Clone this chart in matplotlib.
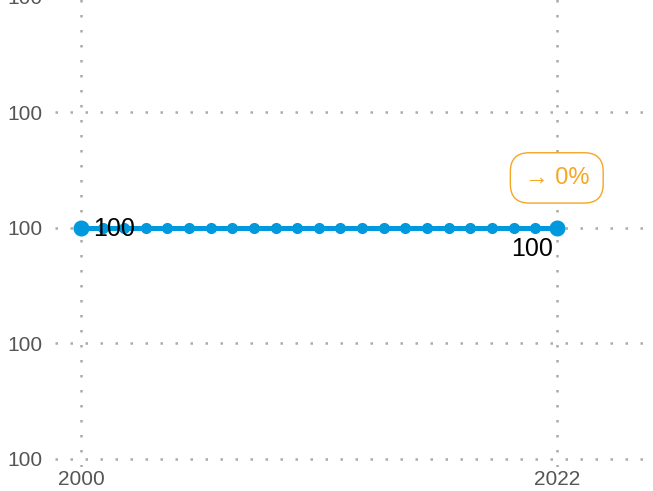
import matplotlib
matplotlib.use("Agg")
import matplotlib.pyplot as plt
from matplotlib.ticker import FormatStrFormatter

plt.rcParams['font.family'] = ['Liberation Sans', 'DejaVu Sans']

# data
years = list(range(2000, 2023))
values = [100] * len(years)
y_ticks = [99.8, 99.9, 100.0, 100.1, 100.2]
x_ticks = [2000, 2022]
change_label = "→ 0%"

line_color = "#0099dd"
orange = "#f5a623"
grid_color = "#aaaaaa"
tick_color = "#555555"

fig = plt.figure(figsize=(6.53, 4.91), dpi=100)
ax = fig.add_axes([55 / 653, 24 / 491, 598 / 653, 480.5 / 491])

ax.plot(years, values, color=line_color, linewidth=3.6, marker='o', markersize=7, zorder=3)
ax.plot([years[0], years[-1]], [values[0], values[-1]], linestyle='none', marker='o',
        markersize=10.5, color=line_color, zorder=4)

ax.set_xlim(1998.8, 2026.45)
ax.set_ylim(99.793, 100.209)
ax.set_xticks(x_ticks)
ax.set_yticks(y_ticks)
ax.yaxis.set_major_formatter(FormatStrFormatter('%.0f'))

ax.grid(True, color=grid_color, linestyle=(0, (1, 5)), linewidth=1.8)
ax.set_axisbelow(True)
for s in ax.spines.values():
    s.set_visible(False)
ax.tick_params(length=0, labelsize=15, labelcolor=tick_color)
ax.tick_params(axis='y', pad=9)
ax.tick_params(axis='x', pad=2)

# end labels
ax.annotate(f"{values[0]:.0f}", (years[0], values[0]), xytext=(9, -1), textcoords='offset points',
            ha='left', va='center', fontsize=18, color='black', zorder=5)
ax.annotate(f"{values[-1]:.0f}", (years[-1], values[-1]), xytext=(-3, -15), textcoords='offset points',
            ha='right', va='center', fontsize=18, color='black', zorder=5)

ax.annotate(change_label, (years[-1], values[-1]), xytext=(0, 36), textcoords='offset points',
            ha='center', va='center', fontsize=17, color=orange,
            bbox=dict(boxstyle='round,pad=0.6,rounding_size=0.8', fc='white', ec=orange, lw=1))

fig.savefig("out.png", dpi=100)
